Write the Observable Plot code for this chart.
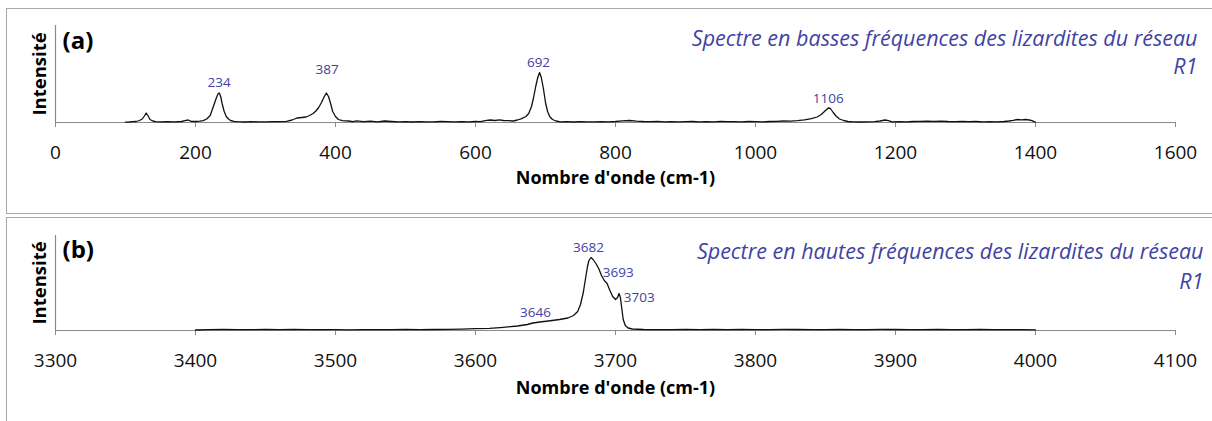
<!DOCTYPE html>
<html><head><meta charset="utf-8">
<script src="https://cdn.jsdelivr.net/npm/d3@7"></script>
<script src="https://cdn.jsdelivr.net/npm/@observablehq/plot@0.6"></script>
<style>
body{margin:0;background:#fff;width:1212px;height:421px;overflow:hidden;position:relative;font-family:"Open Sans",sans-serif}
.frame{position:absolute;border:1.5px solid #a8a8a8;box-sizing:border-box}
.panel{position:absolute;left:0}
.panel svg{overflow:visible}
</style></head><body>
<div class="frame" style="left:6px;top:8px;width:1220px;height:206px"></div>
<div class="frame" style="left:6px;top:217px;width:1220px;height:220px"></div>
<div id="pa" class="panel" style="top:0"></div>
<div id="pb" class="panel" style="top:214px"></div>
<script>
// ---- Panel (a): low-frequency spectrum ----
const specAX = [100,105,110,115,120,124,127,129.5,132,135,139,143,150,160,170,180,185,189.5,194,200,206,211,216,221,224,227,230,232.5,234,236,238,241,244,247,250,255,260,270,280,290,300,310,320,330,338,345,352,358,363,368,372,376,380,384,387,390,393,396,400,404,410,419,425,430,440,450,460,470,480,490,500,510,520,530,540,550,560,570,580,590,600,607,614,621,628,634,640,647,654,660,666,672,676,680,683,686,689,691.5,694,697,700,703,706,710,715,721,730,740,750,760,770,780,790,800,810,820,830,840,850,860,870,880,890,900,910,920,930,940,950,960,970,980,990,1000,1010,1020,1030,1040,1050,1060,1070,1080,1088,1094,1100,1104,1107,1111,1115,1120,1126,1132,1140,1150,1160,1170,1178,1185,1190,1195,1205,1215,1225,1235,1245,1255,1265,1275,1285,1295,1305,1315,1325,1335,1345,1355,1362,1368,1374,1380,1386,1391,1395,1398,1400];
const specAY = [0.3,0.5,0.8,1.0,2.0,3.5,6.5,9.5,7,3,1.5,0.8,0.6,0.9,0.7,1.0,1.8,2.5,1.2,1.0,1.3,1.8,3.5,7,13,19,25,29,29.5,26,19,11,6,3.5,2,1.2,0.8,0.5,0.8,0.6,0.7,0.9,0.8,1.2,2.5,4.5,5,5.5,7,9,11.5,15,20,26,29.5,26,19,11,6,3,1.8,1.5,0.8,1.6,0.9,1.3,0.7,1.5,1.0,0.6,0.8,0.5,0.9,0.6,0.7,1.0,0.8,0.6,0.9,0.7,1.0,0.8,1.8,2.5,2.0,2.6,2.0,1.8,1.5,2.5,3.8,6,9,16,25,36,45,50,45,34,20,11,6,3,1.5,0.6,0.8,0.5,0.9,0.6,0.7,0.8,0.6,1.0,1.6,2.0,1.4,1.0,0.8,1.1,0.7,0.9,0.6,0.8,1.0,0.7,0.9,0.6,1.1,0.8,0.9,0.7,1.0,0.8,0.6,1.0,1.2,1.5,1.3,1.8,2.6,3.8,5.5,8,12,14.5,14,10,6.5,3.5,2,1,0.6,0.5,0.7,0.9,1.5,2.5,1.8,0.6,0.8,0.6,1.0,1.2,1.4,1.1,1.3,1.0,0.9,1.1,0.8,1.0,0.6,0.8,0.7,1.0,1.5,2.2,3.0,2.6,3.0,2.5,1.8,0.8,0.4];
const peakTextA = ["234","387","692","1106"];
const peakXA = [233.6,388,690,1104];
const peakYA = [40.3,52.7,60.3,23.7];
const ticksA = [0,200,400,600,800,1000,1200,1400,1600];

// ---- Panel (b): high-frequency spectrum ----
const specBX = [3400,3410,3420,3430,3440,3450,3460,3470,3480,3490,3500,3510,3520,3530,3540,3550,3560,3570,3580,3590,3600,3610,3620,3630,3637,3641,3646,3652,3660,3666,3670,3673,3675,3677,3678.6,3680,3681,3682.5,3684,3686,3688,3690,3692,3694,3696,3698,3700,3701.5,3702.5,3703.5,3704.5,3705.5,3707,3709,3712,3720,3730,3740,3750,3760,3770,3780,3790,3800,3810,3820,3830,3840,3850,3860,3870,3880,3890,3900,3910,3920,3930,3940,3950,3960,3970,3980,3990,4000];
const specBY = [0.5,0.8,1.0,0.8,0.9,1.1,0.8,1.0,0.9,0.8,0.9,0.7,0.8,0.9,0.8,1.0,0.9,1.0,1.1,1.4,1.8,2.2,3.2,4.5,6,7.5,8.5,9.5,11,12.5,15,19,26,38,52,64,70,73,71,67,62,55,50,47,40,34,31,33,37,33,22,11,5,2.5,1.5,1.0,0.8,0.9,1.0,0.8,1.1,0.9,1.0,0.8,0.9,1.1,1.0,0.8,0.9,1.0,0.8,0.9,1.1,1.0,0.8,0.9,1.0,0.8,0.9,1.0,0.8,0.9,0.8,0.7];
const peakTextB = ["3646","3682","3693","3703"];
const peakXB = [3642.9,3680.7,3702,3717];
const peakYB = [18.3,83,58.3,33.3];
const ticksB = [3300,3400,3500,3600,3700,3800,3900,4000,4100];

const titles = ["Spectre en basses fréquences des lizardites du réseau","Spectre en hautes fréquences des lizardites du réseau"];
const tags = ["(a)","(b)"];
const yLabel = "Intensité";
const xLabel = "Nombre d'onde (cm-1)";

const BLUE = "#3f43a3";
const AXIS = "#8a8a8a";

function panel(cfg) {
  const spec = d3.zip(cfg.xs, cfg.ys).map(([x, y]) => ({x, y}));
  const labels = cfg.lt.map((t, i) => ({t, x: cfg.lx[i], y: cfg.ly[i]}));
  return Plot.plot({
    width: 1212, height: cfg.height,
    marginLeft: 55, marginRight: 37, marginTop: cfg.mt, marginBottom: cfg.mb,
    x: {domain: [cfg.ticks[0], cfg.ticks[cfg.ticks.length - 1]]},
    y: {domain: [0, cfg.yMax], axis: null},
    style: {fontFamily: "Open Sans", background: "transparent", color: "#000"},
    marks: [
      Plot.ruleX([cfg.ticks[0]], {stroke: AXIS, strokeWidth: 1.2}),
      Plot.ruleY([0], {stroke: AXIS, strokeWidth: 1.2}),
      Plot.axisX({ticks: cfg.ticks, tickFormat: d => String(d), tickSize: 5, tickPadding: 18,
        fontSize: 19, stroke: AXIS, fill: "#111", label: null}),
      Plot.line(spec, {x: "x", y: "y", stroke: "#111", strokeWidth: 1.3}),
      Plot.text(labels, {x: "x", y: "y", text: "t", fill: BLUE, fontSize: 13.5}),
      Plot.text([cfg.tag], {frameAnchor: "top-left", textAnchor: "start", dx: 7, dy: cfg.tagDy, fontSize: 24, fontWeight: "bold"}),
      Plot.text([yLabel], {frameAnchor: "left", textAnchor: "middle", rotate: -90, dx: -15, fontSize: 18.5, fontWeight: "bold"}),
      Plot.text([xLabel], {frameAnchor: "bottom", dy: cfg.xlDy, fontSize: 18, fontWeight: "bold"}),
      Plot.text([cfg.title], {frameAnchor: "top-right", textAnchor: "end", dx: cfg.tDx, dy: cfg.tDy, fontSize: 21.5, fontStyle: "italic", fill: BLUE}),
      Plot.text(["R1"], {frameAnchor: "top-right", textAnchor: "end", dx: cfg.tDx, dy: cfg.tDy + cfg.r1Gap, fontSize: 21.5, fontStyle: "italic", fill: BLUE})
    ]
  });
}

document.getElementById("pa").append(panel({
  xs: specAX, ys: specAY, lt: peakTextA, lx: peakXA, ly: peakYA, ticks: ticksA,
  height: 214, mt: 25, mb: 92, yMax: 97, tag: tags[0], tagDy: 6, xlDy: 61,
  title: titles[0], tDx: 22, tDy: 5, r1Gap: 28
}));
document.getElementById("pb").append(panel({
  xs: specBX, ys: specBY, lt: peakTextB, lx: peakXB, ly: peakYB, ticks: ticksB,
  height: 207, mt: 21, mb: 91, yMax: 95, tag: tags[1], tagDy: 5, xlDy: 63,
  title: titles[1], tDx: 28, tDy: 8, r1Gap: 30
}));
</script>
</body></html>
